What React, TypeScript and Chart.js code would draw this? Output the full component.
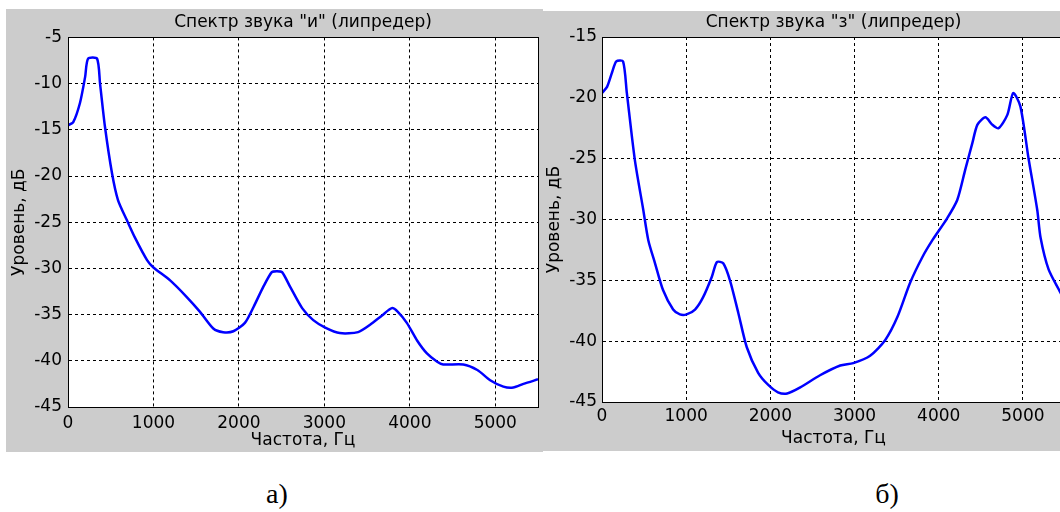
import React, { useEffect, useRef } from "react";
import { Chart, registerables } from "chart.js";

Chart.register(...registerables);

// ---- Data: spectrum of sound "и" (left panel) ----
const freqI = [0, 60, 140, 200, 235, 340, 375, 433, 515, 585, 690, 785, 925, 1000, 1195, 1390, 1545, 1700, 1815, 1935, 2070, 2170, 2285, 2385, 2445, 2505, 2600, 2740, 2870, 3010, 3180, 3395, 3535, 3675, 3790, 3860, 3965, 4085, 4200, 4320, 4390, 4625, 4790, 4940, 5095, 5210, 5330, 5500];
const levelI = [-14.5, -14.2, -12.1, -9.3, -7.3, -7.3, -10, -14.7, -19.7, -22.6, -24.8, -26.7, -29.1, -29.9, -31.3, -33.1, -34.7, -36.5, -36.9, -36.8, -35.9, -34.2, -32, -30.4, -30.3, -30.4, -32, -34.3, -35.6, -36.4, -37, -36.9, -36.1, -35.1, -34.3, -34.7, -35.9, -37.8, -39.2, -40.1, -40.4, -40.4, -41, -42.1, -42.8, -42.9, -42.5, -42];

// ---- Data: spectrum of sound "з" (right panel) ----
const freqZ = [0, 60, 120, 170, 250, 295, 390, 490, 550, 630, 725, 845, 925, 1005, 1105, 1200, 1305, 1365, 1440, 1520, 1620, 1720, 1855, 1975, 2090, 2200, 2355, 2590, 2830, 2985, 3185, 3365, 3510, 3660, 3805, 3925, 4100, 4220, 4315, 4400, 4460, 4555, 4635, 4710, 4815, 4885, 4970, 5065, 5170, 5210, 5305, 5445, 5500];
const levelZ = [-19.6, -19.1, -17.9, -17, -17, -19.6, -25.1, -29.2, -31.7, -33.6, -35.8, -37.4, -37.8, -37.8, -37.4, -36.4, -34.7, -33.5, -33.6, -35, -37.7, -40.5, -42.6, -43.6, -44.2, -44.3, -43.8, -42.8, -42, -41.8, -41.2, -39.9, -38, -35.2, -33.1, -31.7, -29.9, -28.4, -25.9, -23.7, -22.2, -21.6, -22.2, -22.5, -21.4, -19.6, -20.7, -24.9, -29.2, -31.5, -34.1, -36, -36.8];

// ---- Axes / ticks / labels ----
const xTicks = [0, 1000, 2000, 3000, 4000, 5000];
const yTicksI = [-45, -40, -35, -30, -25, -20, -15, -10, -5];
const yTicksZ = [-45, -40, -35, -30, -25, -20, -15];
const xRange = [0, 5500];
const yRangeI = [-45, -5];
const yRangeZ = [-45, -15];
const titleI = 'Спектр звука "и" (липредер)';
const titleZ = 'Спектр звука "з" (липредер)';
const xTitle = "Частота, Гц";
const yTitle = "Уровень, дБ";
const captions = ["а)", "б)"];

const FONT = "'DejaVu Sans', 'Liberation Sans', Arial, sans-serif";

const bgPlugin = {
  id: "matlabBg",
  beforeDraw(chart: any) {
    const { ctx, width, height, chartArea } = chart;
    ctx.save();
    ctx.fillStyle = "#cccccc";
    ctx.fillRect(0, 0, width, height);
    ctx.fillStyle = "#ffffff";
    ctx.fillRect(chartArea.left, chartArea.top, chartArea.right - chartArea.left, chartArea.bottom - chartArea.top);
    ctx.restore();
  },
  afterDraw(chart: any) {
    const { ctx, chartArea } = chart;
    ctx.save();
    ctx.strokeStyle = "#000000";
    ctx.lineWidth = 1;
    ctx.strokeRect(
      Math.round(chartArea.left) + 0.5,
      Math.round(chartArea.top) + 0.5,
      Math.round(chartArea.right - chartArea.left),
      Math.round(chartArea.bottom - chartArea.top)
    );
    ctx.restore();
  },
};

type PanelCfg = {
  freq: number[];
  level: number[];
  title: string;
  yRange: number[];
  yTicks: number[];
  yWidth: number;
  xHeight: number;
  titlePad: { top: number; bottom: number };
  yTitlePad: number;
  xTitlePad: number;
  yTickPad: number;
  xTickPad: number;
  rightPad: number;
};

function Panel({ cfg, width, height }: { cfg: PanelCfg; width: number; height: number }) {
  const ref = useRef<HTMLCanvasElement | null>(null);
  useEffect(() => {
    if (!ref.current) return;
    const data = cfg.freq.map((f, i) => ({ x: f, y: cfg.level[i] }));
    const chart = new Chart(ref.current, {
      type: "line",
      data: {
        datasets: [
          {
            data,
            borderColor: "#0000ff",
            borderWidth: 2.5,
            pointRadius: 0,
            tension: 0.25,
            fill: false,
          },
        ],
      },
      options: {
        animation: false,
        responsive: false,
        maintainAspectRatio: false,
        events: [],
        layout: { padding: { left: 0, right: cfg.rightPad, top: 0, bottom: 0 } },
        plugins: {
          legend: { display: false },
          tooltip: { enabled: false },
          title: {
            display: true,
            text: cfg.title,
            fullSize: false,
            color: "#000",
            font: { family: FONT, size: 17, weight: "normal" as any, lineHeight: 1.2 },
            padding: cfg.titlePad,
          },
        },
        scales: {
          x: {
            type: "linear",
            min: xRange[0],
            max: xRange[1],
            afterBuildTicks: (s: any) => {
              s.ticks = xTicks.map((v) => ({ value: v }));
            },
            afterFit: (s: any) => {
              s.height = cfg.xHeight;
              s.paddingLeft = 0;
              s.paddingRight = 0;
            },
            ticks: {
              autoSkip: false,
              color: "#000",
              padding: cfg.xTickPad,
              maxRotation: 0,
              minRotation: 0,
              font: { family: FONT, size: 17, lineHeight: 1.2 },
              callback: (v: any) => String(v),
            },
            grid: { color: "#000", lineWidth: 1, drawTicks: false },
            border: { display: true, color: "#000", width: 1, dash: [3, 3] },
            title: {
              display: true,
              text: xTitle,
              color: "#000",
              font: { family: FONT, size: 17, lineHeight: 1.2 },
              padding: { top: 0, bottom: cfg.xTitlePad },
            },
          },
          y: {
            type: "linear",
            min: cfg.yRange[0],
            max: cfg.yRange[1],
            afterBuildTicks: (s: any) => {
              s.ticks = cfg.yTicks.map((v) => ({ value: v }));
            },
            afterFit: (s: any) => {
              s.width = cfg.yWidth;
              s.paddingTop = 0;
              s.paddingBottom = 0;
            },
            ticks: {
              autoSkip: false,
              color: "#000",
              padding: cfg.yTickPad,
              font: { family: FONT, size: 17, lineHeight: 1.2 },
              callback: (v: any) => String(v),
            },
            grid: { color: "#000", lineWidth: 1, drawTicks: false },
            border: { display: true, color: "#000", width: 1, dash: [3, 3] },
            title: {
              display: true,
              text: yTitle,
              color: "#000",
              font: { family: FONT, size: 17, lineHeight: 1.2 },
              padding: { top: cfg.yTitlePad, bottom: 0 },
            },
          },
        },
      },
      plugins: [bgPlugin],
    });
    return () => chart.destroy();
  }, [cfg]);
  return <canvas ref={ref} width={width} height={height} style={{ display: "block", width, height }} />;
}

const leftCfg: PanelCfg = {
  freq: freqI,
  level: levelI,
  title: titleI,
  yRange: yRangeI,
  yTicks: yTicksI,
  yWidth: 62,
  xHeight: 45,
  titlePad: { top: 3, bottom: 5 },
  yTitlePad: 3,
  xTitlePad: 1,
  yTickPad: 6,
  xTickPad: 6,
  rightPad: 5,
};

const rightCfg: PanelCfg = {
  freq: freqZ,
  level: levelZ,
  title: titleZ,
  yRange: yRangeZ,
  yTicks: yTicksZ,
  yWidth: 59,
  xHeight: 49,
  titlePad: { top: 1, bottom: 4.6 },
  yTitlePad: 1.3,
  xTitlePad: 2,
  yTickPad: 5,
  xTickPad: 4,
  rightPad: 4,
};

export default function App() {
  const captionStyle: React.CSSProperties = {
    position: "absolute",
    top: 480,
    fontFamily: "'Liberation Serif', 'Times New Roman', serif",
    fontSize: 28,
    lineHeight: "28px",
    color: "#000",
    width: 60,
    textAlign: "center",
  };
  return (
    <div style={{ position: "absolute", left: 0, top: 0, width: 1060, height: 512, overflow: "hidden", background: "#fff" }}>
      <div style={{ position: "absolute", left: 6, top: 9, width: 537, height: 443, overflow: "hidden" }}>
        <Panel cfg={leftCfg} width={537} height={443} />
      </div>
      <div style={{ position: "absolute", left: 543, top: 11, width: 517, height: 440, overflow: "hidden" }}>
        <Panel cfg={rightCfg} width={526} height={440} />
      </div>
      <div style={{ ...captionStyle, left: 277 - 30 }}>{captions[0]}</div>
      <div style={{ ...captionStyle, left: 887 - 30 }}>{captions[1]}</div>
    </div>
  );
}
